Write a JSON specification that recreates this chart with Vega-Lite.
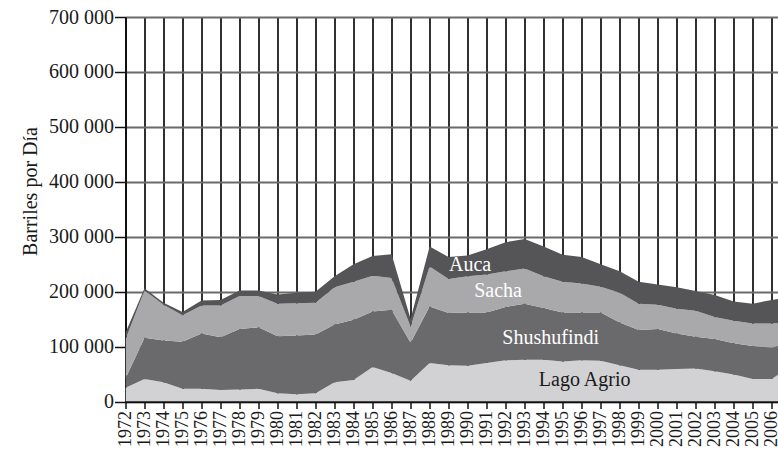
{
  "$schema": "https://vega.github.io/schema/vega-lite/v6.json",
  "width": 652.5,
  "height": 384.5,
  "autosize": {"type": "none"},
  "padding": {"left": 125.5, "top": 17, "right": 0, "bottom": 50.5},
  "background": "white",
  "config": {"view": {"stroke": null}, "font": "Liberation Serif"},
  "datasets": {
    "prod": [
      {"year": 1972, "Lago Agrio": 25000, "Shushufindi": 17000, "Sacha": 71000, "Auca": 12000},
      {"year": 1973, "Lago Agrio": 41000, "Shushufindi": 75000, "Sacha": 86000, "Auca": 4000},
      {"year": 1974, "Lago Agrio": 35000, "Shushufindi": 76000, "Sacha": 65000, "Auca": 4000},
      {"year": 1975, "Lago Agrio": 23000, "Shushufindi": 86000, "Sacha": 48000, "Auca": 6000},
      {"year": 1976, "Lago Agrio": 23000, "Shushufindi": 101000, "Sacha": 51000, "Auca": 9000},
      {"year": 1977, "Lago Agrio": 21000, "Shushufindi": 96000, "Sacha": 58000, "Auca": 10000},
      {"year": 1978, "Lago Agrio": 22000, "Shushufindi": 110000, "Sacha": 60000, "Auca": 10000},
      {"year": 1979, "Lago Agrio": 23000, "Shushufindi": 112000, "Sacha": 57000, "Auca": 10000},
      {"year": 1980, "Lago Agrio": 15000, "Shushufindi": 104000, "Sacha": 59000, "Auca": 17000},
      {"year": 1981, "Lago Agrio": 13000, "Shushufindi": 107000, "Sacha": 59000, "Auca": 19000},
      {"year": 1982, "Lago Agrio": 15000, "Shushufindi": 107000, "Sacha": 58000, "Auca": 20000},
      {"year": 1983, "Lago Agrio": 35000, "Shushufindi": 105000, "Sacha": 68000, "Auca": 20000},
      {"year": 1984, "Lago Agrio": 39000, "Shushufindi": 110000, "Sacha": 69000, "Auca": 32000},
      {"year": 1985, "Lago Agrio": 63000, "Shushufindi": 101000, "Sacha": 65000, "Auca": 36000},
      {"year": 1986, "Lago Agrio": 52000, "Shushufindi": 115000, "Sacha": 58000, "Auca": 43000},
      {"year": 1987, "Lago Agrio": 38000, "Shushufindi": 69000, "Sacha": 29000, "Auca": 14000},
      {"year": 1988, "Lago Agrio": 70000, "Shushufindi": 103000, "Sacha": 73000, "Auca": 36000},
      {"year": 1989, "Lago Agrio": 66000, "Shushufindi": 95000, "Sacha": 62000, "Auca": 40000},
      {"year": 1990, "Lago Agrio": 65000, "Shushufindi": 97000, "Sacha": 66000, "Auca": 38000},
      {"year": 1991, "Lago Agrio": 70000, "Shushufindi": 92000, "Sacha": 69000, "Auca": 46000},
      {"year": 1992, "Lago Agrio": 75000, "Shushufindi": 97000, "Sacha": 65000, "Auca": 53000},
      {"year": 1993, "Lago Agrio": 76000, "Shushufindi": 102000, "Sacha": 64000, "Auca": 54000},
      {"year": 1994, "Lago Agrio": 76000, "Shushufindi": 94000, "Sacha": 58000, "Auca": 54000},
      {"year": 1995, "Lago Agrio": 73000, "Shushufindi": 89000, "Sacha": 56000, "Auca": 49000},
      {"year": 1996, "Lago Agrio": 75000, "Shushufindi": 87000, "Sacha": 53000, "Auca": 48000},
      {"year": 1997, "Lago Agrio": 74000, "Shushufindi": 88000, "Sacha": 47000, "Auca": 41000},
      {"year": 1998, "Lago Agrio": 66000, "Shushufindi": 78000, "Sacha": 54000, "Auca": 39000},
      {"year": 1999, "Lago Agrio": 58000, "Shushufindi": 72000, "Sacha": 48000, "Auca": 40000},
      {"year": 2000, "Lago Agrio": 58000, "Shushufindi": 74000, "Sacha": 44000, "Auca": 37000},
      {"year": 2001, "Lago Agrio": 59000, "Shushufindi": 65000, "Sacha": 45000, "Auca": 39000},
      {"year": 2002, "Lago Agrio": 60000, "Shushufindi": 58000, "Sacha": 47000, "Auca": 36000},
      {"year": 2003, "Lago Agrio": 55000, "Shushufindi": 59000, "Sacha": 40000, "Auca": 40000},
      {"year": 2004, "Lago Agrio": 49000, "Shushufindi": 57000, "Sacha": 41000, "Auca": 35000},
      {"year": 2005, "Lago Agrio": 41000, "Shushufindi": 60000, "Sacha": 41000, "Auca": 36000},
      {"year": 2006, "Lago Agrio": 41000, "Shushufindi": 57000, "Sacha": 44000, "Auca": 43000},
      {"year": 2007, "Lago Agrio": 65000, "Shushufindi": 43000, "Sacha": 37000, "Auca": 45000}
    ],
    "labels": [
      {"label": "Auca", "year": 1990.13, "bpd": 248000},
      {"label": "Sacha", "year": 1991.6, "bpd": 201000},
      {"label": "Shushufindi", "year": 1994.37, "bpd": 116000},
      {"label": "Lago Agrio", "year": 1996.16, "bpd": 40000}
    ]
  },
  "layer": [
    {
      "data": {"name": "prod"},
      "transform": [
        {"fold": ["Lago Agrio", "Shushufindi", "Sacha", "Auca"], "as": ["campo", "bpd"]},
        {"calculate": "indexof(['Lago Agrio','Shushufindi','Sacha','Auca'], datum.campo)", "as": "orden"}
      ],
      "mark": {"type": "area", "clip": true, "interpolate": "linear"},
      "encoding": {
        "x": {
          "field": "year",
          "type": "quantitative",
          "scale": {"domain": [1972, 2006.33], "nice": false, "zero": false},
          "axis": {
            "title": null,
            "values": [1972, 1973, 1974, 1975, 1976, 1977, 1978, 1979, 1980, 1981, 1982, 1983, 1984, 1985, 1986, 1987, 1988, 1989, 1990, 1991, 1992, 1993, 1994, 1995, 1996, 1997, 1998, 1999, 2000, 2001, 2002, 2003, 2004, 2005, 2006],
            "tickCount": 100,
            "format": "d",
            "labelAngle": -90,
            "labelAlign": "right",
            "labelBaseline": "middle",
            "labelFontSize": 18,
            "labelColor": "#1a1a1a",
            "labelPadding": 2,
            "labelOverlap": false,
            "labelFlush": false,
            "labelBound": false,
            "tickSize": 7,
            "tickColor": "#111",
            "tickWidth": 1.5,
            "domainColor": "#111",
            "domainWidth": 2,
            "grid": true,
            "gridColor": "#1a1a1a",
            "gridWidth": 1.8
          }
        },
        "y": {
          "field": "bpd",
          "type": "quantitative",
          "stack": "zero",
          "scale": {"domain": [0, 700000], "nice": false},
          "axis": {
            "title": "Barriles por Día",
            "titleFontSize": 20,
            "titleFontWeight": "normal",
            "titleColor": "#1a1a1a",
            "titleAngle": -90,
            "titleAlign": "center",
            "titleBaseline": "middle",
            "titleX": -95,
            "titleY": 174,
            "values": [0, 100000, 200000, 300000, 400000, 500000, 600000, 700000],
            "tickCount": 20,
            "labelExpr": "replace(format(datum.value, ','), regexp(',', 'g'), ' ')",
            "labelFontSize": 20,
            "labelColor": "#1a1a1a",
            "labelPadding": 1,
            "labelFlush": false,
            "tickSize": 11,
            "tickColor": "#111",
            "tickWidth": 1.5,
            "domainColor": "#111",
            "domainWidth": 2,
            "grid": true,
            "gridColor": "#6a6a6a",
            "gridWidth": 1.8
          }
        },
        "color": {
          "field": "campo",
          "type": "nominal",
          "sort": ["Lago Agrio", "Shushufindi", "Sacha", "Auca"],
          "scale": {
            "domain": ["Lago Agrio", "Shushufindi", "Sacha", "Auca"],
            "range": ["#d2d2d4", "#6a6a6d", "#a9a9ac", "#555558"]
          },
          "legend": null
        },
        "order": {"field": "orden", "type": "quantitative", "sort": "ascending"}
      }
    },
    {
      "mark": {"type": "rule", "color": "#111", "strokeWidth": 2},
      "encoding": {"x": {"datum": 1972, "type": "quantitative"}}
    },
    {
      "mark": {"type": "rule", "color": "#111", "strokeWidth": 1.5},
      "encoding": {"y": {"datum": 0, "type": "quantitative"}}
    },
    {
      "data": {"name": "labels"},
      "mark": {"type": "text", "fontSize": 20, "align": "center", "baseline": "middle", "font": "Liberation Serif"},
      "encoding": {
        "x": {"field": "year", "type": "quantitative"},
        "y": {"field": "bpd", "type": "quantitative"},
        "text": {"field": "label"},
        "color": {
          "condition": {"test": "datum.label === 'Lago Agrio'", "value": "#1a1a1a"},
          "value": "white"
        }
      }
    }
  ]
}
